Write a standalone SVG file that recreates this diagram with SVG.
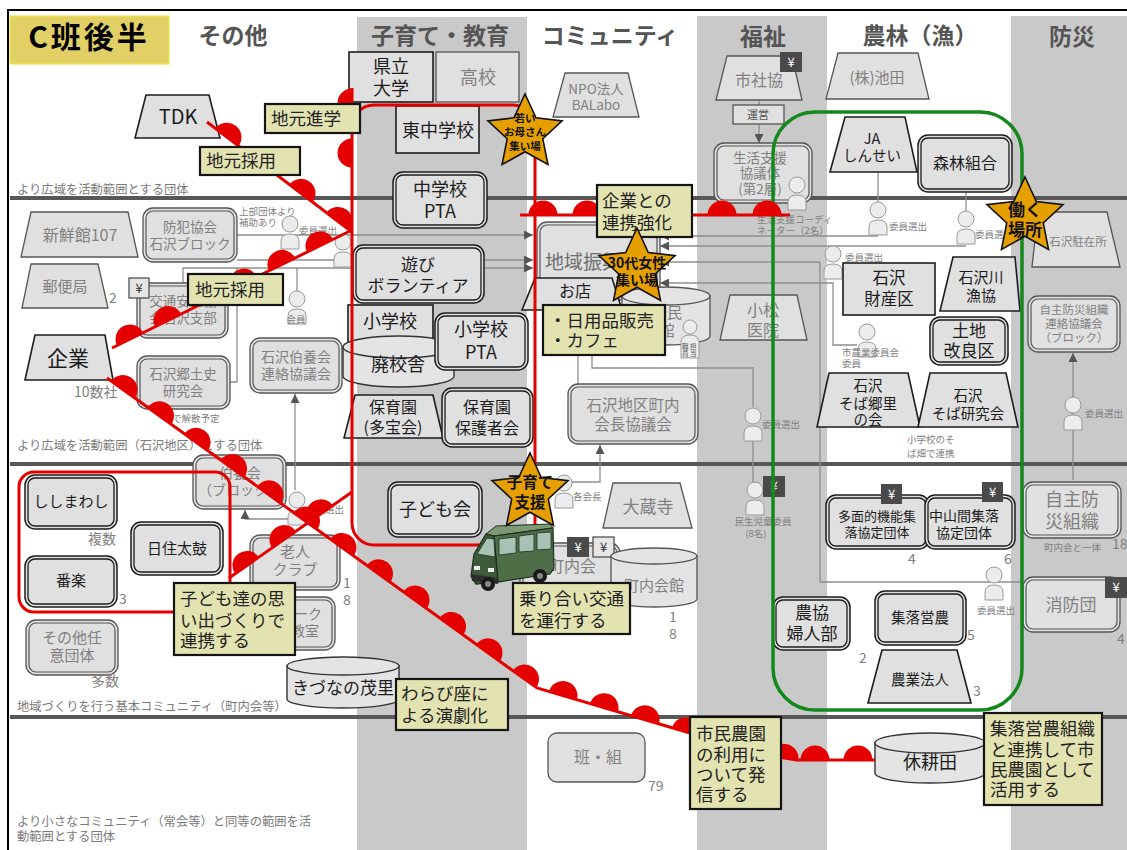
<svg xmlns="http://www.w3.org/2000/svg" width="1127" height="850" viewBox="0 0 1127 850">
<style>
text{font-family:"Noto Sans CJK JP","Noto Sans CJK SC","Noto Sans",sans-serif}
.band{fill:#c9c9c9}
.hd{font-size:23px;font-weight:bold;fill:#555;text-anchor:middle}
.dv{stroke:#575757;stroke-width:4}
.cap{font-size:12.3px;fill:#7a7a7a}
.tg{fill:#e0e0e0;stroke:#555;stroke-width:1.3}
.tk{fill:#e0e0e0;stroke:#1c1c1c;stroke-width:1.6}
.og{fill:#e0e0e0;stroke:#555;stroke-width:1.3}
.ig{fill:none;stroke:#555;stroke-width:1.2}
.ok{fill:#e0e0e0;stroke:#1c1c1c;stroke-width:1.5}
.ik{fill:none;stroke:#1c1c1c;stroke-width:1.3}
.cy{fill:#e4e4e4;stroke:#333;stroke-width:1.4}
.cyg{fill:#e4e4e4;stroke:#555;stroke-width:1.3}
.g{fill:#808080;text-anchor:middle}
.k{fill:#1c1c1c;text-anchor:middle}
.s{font-size:9.5px;fill:#808080}
.nm{font-size:14px;fill:#808080}
.con{fill:none;stroke:#8e8e8e;stroke-width:1.3}
.lb{fill:#e3e3b1;stroke:#141414;stroke-width:2.2}
.lt{font-size:17.5px;fill:#222}
.red{fill:none;stroke:#e50000;stroke-width:3}
.bm{fill:none;stroke:none;marker-mid:url(#bp)}
.yd{fill:#4a4a4a}
.yl{fill:#e6e6e6;stroke:#444;stroke-width:1.2}
.yt{font-size:13px;text-anchor:middle}
.st{font-weight:bold;fill:#111;text-anchor:middle}
</style>
<defs>
<marker id="bp" viewBox="-16 -16 32 32" markerWidth="32" markerHeight="32" refX="0" refY="0" orient="auto" markerUnits="userSpaceOnUse"><path d="M-14.5 0A14.5 14.5 0 0 1 14.5 0Z" fill="#e50000"/></marker>
<marker id="ar" viewBox="0 0 10 10" markerWidth="9" markerHeight="9" refX="10" refY="5" orient="auto" markerUnits="userSpaceOnUse"><path d="M0 0L10 5L0 10Z" fill="#555"/></marker>
<g id="pp"><path d="M-9 25V17Q-9 10 0 10Q9 10 9 17V25Z" fill="#ececec" stroke="#9a9a9a" stroke-width="1"/><circle cx="0" cy="0" r="8" fill="#ececec" stroke="#9a9a9a" stroke-width="1"/></g>
<polygon id="star5" points="0,-1 0.2821,-0.3883 0.9511,-0.309 0.4565,0.1483 0.5878,0.809 0,0.48 -0.5878,0.809 -0.4565,0.1483 -0.9511,-0.309 -0.2821,-0.3883" fill="#e5a000" stroke="#111" stroke-width="1.6" vector-effect="non-scaling-stroke"/>
</defs>

<rect x="0" y="0" width="1127" height="850" fill="#fff"/>

<!-- column bands -->
<g id="bands">
<rect class="band" x="357" y="17" width="170" height="833"/>
<rect class="band" x="697" y="16" width="130" height="834"/>
<rect class="band" x="1011" y="16" width="116" height="834"/>
</g>
<path d="M8 850V10H1127" fill="none" stroke="#000" stroke-width="2"/>

<!-- headers -->
<g id="headers">
<rect x="10" y="16" width="159" height="48" fill="#e2cf66" stroke="#ecea3a" stroke-width="1.2"/>
<text x="89" y="48" font-size="30" font-weight="bold" fill="#000" text-anchor="middle" letter-spacing="3">C班後半</text>
<text class="hd" x="233" y="44">その他</text>
<text class="hd" x="440" y="44" font-size="24">子育て・教育</text>
<text class="hd" x="610" y="44" font-size="22.5">コミュニティ</text>
<text class="hd" x="763" y="45" font-size="24">福祉</text>
<text class="hd" x="920" y="44">農林（漁）</text>
<text class="hd" x="1072" y="45" font-size="24">防災</text>
</g>

<!-- tier dividers -->
<g id="tiers">
<line class="dv" x1="10" y1="198" x2="1127" y2="198"/>
<line class="dv" x1="10" y1="464" x2="1127" y2="464"/>
<line class="dv" x1="10" y1="717" x2="1127" y2="717"/>
<text class="cap" x="17" y="194">より広域を活動範囲とする団体</text>
<text class="cap" x="17" y="450">より広域を活動範囲（石沢地区）とする団体</text>
<text class="cap" x="17" y="711">地域づくりを行う基本コミュニティ（町内会等）</text>
<text class="cap" x="17" y="826">より小さなコミュニティ（常会等）と同等の範囲を活</text>
<text class="cap" x="17" y="841">動範囲とする団体</text>
</g>

<!-- gray connectors -->
<g id="connectors" class="con">
<path d="M237 235H533" marker-end="url(#ar)"/>
<path d="M237 260H533" marker-end="url(#ar)"/>
<path d="M183 283V268H533" marker-end="url(#ar)"/>
<path d="M237 268V382H230"/>
<path d="M297 268V292"/>
<path d="M295 490V394" marker-end="url(#ar)"/>
<path d="M288 519H245V510" marker-end="url(#ar)"/>
<path d="M878 172V202"/>
<path d="M966 192V211"/>
<path d="M878 236H660" marker-end="url(#ar)"/>
<path d="M966 246H660" marker-end="url(#ar)"/>
<path d="M820 262H660" marker-end="url(#ar)"/>
<path d="M820 262V582H1023"/>
<path d="M857 345H833V283H660" marker-end="url(#ar)"/>
<path d="M759 100V105"/>
<path d="M759 124V143" marker-end="url(#ar)"/>
<path d="M578 310V384"/>
<path d="M592 355V368H753V407"/>
<path d="M753 441V482"/>
<path d="M570 482H600V445" marker-end="url(#ar)"/>
<path d="M1073 480V353" marker-end="url(#ar)"/>
</g>

<!-- other groups -->
<g id="n-tdk"><polygon class="tk" points="146,95 209,95 220,138 135,138"/><text class="k" x="178" y="124" font-size="20">TDK</text></g>
<g id="n-shinsenkan"><polygon class="tg" points="31,212 128,212 138,257 21,257"/><text class="g" x="80" y="241" font-size="16">新鮮館107</text></g>
<g id="n-bouhan"><rect class="og" x="143" y="208" width="94" height="54" rx="10"/><rect class="ig" x="146" y="211" width="88" height="48" rx="7"/><text class="g" font-size="13.5"><tspan x="190" y="232">防犯協会</tspan><tspan x="190" y="249">石沢ブロック</tspan></text></g>
<text class="s" x="239" y="215">上部団体より</text>
<text class="s" x="239" y="226">補助あり</text>
<g id="n-yubin"><polygon class="tg" points="31,264 98,264 108,308 22,308"/><text class="g" x="65" y="292" font-size="15">郵便局</text><text class="nm" x="109" y="303">2</text></g>
<g id="n-koutsu"><rect class="og" x="137" y="283" width="91" height="55" rx="10"/><rect class="ig" x="140" y="286" width="85" height="49" rx="7"/><text class="g" font-size="13.5"><tspan x="183" y="306">交通安全協</tspan><tspan x="183" y="323">会石沢支部</tspan></text>
<rect class="yl" x="129" y="278" width="20" height="20"/><text class="yt" x="139" y="293" fill="#333">¥</text></g>
<g id="n-kigyo"><polygon class="tk" points="35,335 105,335 113,380 25,380"/><text class="k" x="68" y="366" font-size="21">企業</text><text class="nm" x="74" y="397">10数社</text></g>
<g id="n-kyodoshi"><rect class="og" x="137" y="356" width="93" height="53" rx="10"/><rect class="ig" x="140" y="359" width="87" height="47" rx="7"/><text class="g" font-size="13.5"><tspan x="183" y="379">石沢郷土史</tspan><tspan x="183" y="396">研究会</tspan></text><text class="s" x="172" y="422" font-size="11.5">で解散予定</text></g>
<g id="n-hakuyo-ren"><rect class="og" x="250" y="338" width="92" height="55" rx="10"/><rect class="ig" x="253" y="341" width="86" height="49" rx="7"/><text class="g" font-size="14"><tspan x="296" y="362">石沢伯養会</tspan><tspan x="296" y="379">連絡協議会</tspan></text></g>
<g id="p-kaiin"><use href="#pp" transform="translate(297,299)"/><text class="s" x="296" y="323" text-anchor="middle">会員</text></g>
<g id="n-hakuyo-blk"><rect class="og" x="193" y="455" width="93" height="54" rx="10"/><rect class="ig" x="196" y="458" width="87" height="48" rx="7"/><text class="g" font-size="14"><tspan x="240" y="478">伯養会</tspan><tspan x="240" y="495">（ブロック）</tspan></text></g>
<g id="n-rojin"><rect class="og" x="250" y="535" width="90" height="55" rx="10"/><rect class="ig" x="253" y="538" width="84" height="49" rx="7"/><text class="g" font-size="15"><tspan x="295" y="557">老人</tspan><tspan x="295" y="575">クラブ</tspan></text><text class="nm" x="343" y="588">1</text><text class="nm" x="343" y="605">8</text></g>
<g id="n-fork"><rect class="og" x="250" y="597" width="85" height="53" rx="10"/><rect class="ig" x="253" y="600" width="79" height="47" rx="7"/><text class="g" font-size="14"><tspan x="308" y="619">ーク</tspan><tspan x="305" y="636">教室</tspan></text></g>
<g id="n-shishi"><rect class="ok" x="25" y="475" width="92" height="54" rx="10"/><rect class="ik" x="28" y="478" width="86" height="48" rx="7"/><text class="k" x="71" y="507" font-size="15">ししまわし</text><text class="nm" x="102" y="544" text-anchor="middle">複数</text></g>
<g id="n-hizumi"><rect class="ok" x="131" y="522" width="92" height="53" rx="10"/><rect class="ik" x="134" y="525" width="86" height="47" rx="7"/><text class="k" x="177" y="554" font-size="15">日住太鼓</text></g>
<g id="n-banraku"><rect class="ok" x="25" y="556" width="92" height="51" rx="10"/><rect class="ik" x="28" y="559" width="86" height="45" rx="7"/><text class="k" x="71" y="586" font-size="15">番楽</text><text class="nm" x="119" y="604">3</text></g>
<g id="n-sonota"><rect class="og" x="26" y="620" width="92" height="55" rx="10"/><rect class="ig" x="29" y="623" width="86" height="49" rx="7"/><text class="g" font-size="15"><tspan x="72" y="643">その他任</tspan><tspan x="72" y="661">意団体</tspan></text><text class="nm" x="105" y="686" text-anchor="middle">多数</text></g>
<g id="n-kizuna"><path class="cy" d="M287 666V699A56 9 0 0 0 399 699V666Z"/><ellipse class="cy" cx="343" cy="666" rx="56" ry="9"/><text class="k" x="343" y="694" font-size="17">きづなの茂里</text></g>

<g id="n-kenritsu"><rect class="tk" x="349" y="52" width="84" height="50"/><text class="k" font-size="18"><tspan x="391" y="73">県立</tspan><tspan x="391" y="95">大学</tspan></text></g>
<g id="n-koukou"><rect class="tg" x="436" y="52" width="83" height="50"/><text class="g" x="478" y="84" font-size="18">高校</text></g>
<g id="n-higashi"><rect class="tk" x="396" y="106" width="83" height="47"/><text class="k" x="438" y="137" font-size="18">東中学校</text></g>
<g id="n-chupta"><rect class="ok" x="393" y="172" width="94" height="56" rx="10"/><rect class="ik" x="396" y="175" width="88" height="50" rx="7"/><text class="k" font-size="18"><tspan x="440" y="196">中学校</tspan><tspan x="440" y="218">PTA</tspan></text></g>
<g id="n-asobi"><rect class="ok" x="353" y="245" width="131" height="58" rx="10"/><rect class="ik" x="356" y="248" width="125" height="52" rx="7"/><text class="k" font-size="17"><tspan x="418" y="271">遊び</tspan><tspan x="418" y="292">ボランティア</tspan></text></g>
<g id="n-shou"><rect class="tk" x="348" y="305" width="85" height="42"/><text class="k" x="390" y="328" font-size="18">小学校</text></g>
<g id="n-haikou"><path class="cy" d="M343 347V376A55.5 11 0 0 0 454 376V347Z"/><ellipse class="cy" cx="398.5" cy="347" rx="55.5" ry="11"/><text class="k" x="398" y="371" font-size="18">廃校舎</text></g>
<g id="n-shoupta"><rect class="ok" x="435" y="313" width="93" height="57" rx="10"/><rect class="ik" x="438" y="316" width="87" height="51" rx="7"/><text class="k" font-size="18"><tspan x="481" y="336">小学校</tspan><tspan x="481" y="359">PTA</tspan></text></g>
<g id="n-hoikuen"><polygon class="tk" points="355,395 433,395 443,438 344,438"/><text class="k" font-size="16"><tspan x="393" y="413">保育園</tspan><tspan x="393" y="433">(多宝会)</tspan></text></g>
<g id="n-hogosha"><rect class="ok" x="442" y="388" width="91" height="59" rx="10"/><rect class="ik" x="445" y="391" width="85" height="53" rx="7"/><text class="k" font-size="16"><tspan x="487" y="413">保育園</tspan><tspan x="487" y="434">保護者会</tspan></text></g>
<g id="n-kodomo"><rect class="ok" x="388" y="482" width="94" height="55" rx="10"/><rect class="ik" x="391" y="485" width="88" height="49" rx="7"/><text class="k" x="435" y="516" font-size="18">子ども会</text></g>

<g id="n-npo"><polygon class="tg" points="565,73 628,73 639,117 553,117"/><text class="g" font-size="13.5"><tspan x="596" y="94">NPO法人</tspan><tspan x="596" y="110">BALabo</tspan></text></g>
<g id="n-chiiki"><rect class="og" x="537" y="222" width="123" height="78" rx="10"/><rect class="ig" x="540" y="225" width="117" height="72" rx="7"/><text x="545" y="269" font-size="19" fill="#6e6e6e">地域振興会</text></g>
<g id="n-omise"><polygon class="tk" points="535,278 612,278 622,310 522,310"/><text class="k" x="575" y="297" font-size="16">お店</text></g>
<g id="n-kominkan"><path class="cyg" d="M622 296V336A44 9 0 0 0 710 336V296Z"/><ellipse class="cyg" cx="666" cy="296" rx="44" ry="9"/><text class="g" font-size="15" text-anchor="start"><tspan x="667" y="318">公民</tspan><tspan x="667" y="336">館</tspan></text></g>
<g id="p-kominkan"><circle cx="690" cy="327" r="7" fill="#ececec" stroke="#9a9a9a"/><path d="M681 358V342Q681 335 690 335Q699 335 699 342V358Z" fill="#ececec" stroke="#9a9a9a"/><text x="690" y="349" font-size="6.5" fill="#555" text-anchor="middle" letter-spacing="1.5">職担</text><text x="690" y="356" font-size="6.5" fill="#555" text-anchor="middle" letter-spacing="1.5">員当</text></g>
<g id="n-komatsu"><polygon class="tg" points="730,295 797,295 807,340 720,340"/><text class="g" font-size="16"><tspan x="763" y="316">小松</tspan><tspan x="763" y="336">医院</tspan></text></g>
<g id="n-chokaikyo"><rect class="og" x="568" y="384" width="130" height="60" rx="10"/><rect class="ig" x="571" y="387" width="124" height="54" rx="7"/><text class="g" font-size="15.5"><tspan x="633" y="411">石沢地区町内</tspan><tspan x="633" y="430">会長協議会</tspan></text></g>
<g id="p-kakukaicho"><use href="#pp" transform="translate(564,483)"/><text class="s" x="573" y="500">各会長</text></g>
<g id="n-daizoji"><polygon class="tg" points="613,483 680,483 692,528 603,528"/><text class="g" x="648" y="513" font-size="17">大蔵寺</text></g>
<g id="n-chonaikai"><rect class="og" x="520" y="543" width="100" height="50" rx="10"/><rect class="ig" x="523" y="546" width="94" height="44" rx="7"/><text class="g" x="572" y="572" font-size="16">町内会</text>
<rect class="yd" x="567" y="537" width="22" height="20"/><text class="yt" x="578" y="552" fill="#fff">¥</text>
<rect class="yl" x="593" y="537" width="21" height="20"/><text class="yt" x="603.5" y="552" fill="#333">¥</text></g>
<g id="n-kaikan"><path class="cyg" d="M611 556V599A43 8 0 0 0 697 599V556Z"/><ellipse class="cyg" cx="654" cy="556" rx="43" ry="8"/><text class="g" x="654" y="591" font-size="15">町内会館</text><text class="nm" x="669" y="622">1</text><text class="nm" x="669" y="639">8</text></g>
<g id="n-han"><rect class="og" x="548" y="733" width="97" height="49" rx="9"/><text class="g" x="598" y="763" font-size="16">班・組</text><text class="nm" x="648" y="791">79</text></g>

<g id="n-shashakyo"><polygon class="tg" points="727,56 792,56 802,100 716,100"/><text class="g" x="759" y="86" font-size="16">市社協</text>
<rect class="yd" x="780" y="52" width="22" height="20"/><text class="yt" x="791" y="67" fill="#fff">¥</text></g>
<g id="n-unei"><rect class="tg" x="733" y="105" width="51" height="19"/><text x="758" y="119" font-size="11" fill="#555" text-anchor="middle">運営</text></g>
<g id="n-seikatsu"><rect class="og" x="714" y="143" width="98" height="60" rx="10"/><rect class="ig" x="717" y="146" width="92" height="54" rx="7"/><text class="g" font-size="13.5"><tspan x="760" y="163">生活支援</tspan><tspan x="760" y="178">協議体</tspan><tspan x="760" y="194">(第2層)</tspan></text></g>
<g id="p-coord"><use href="#pp" transform="translate(797,185)"/><text class="s" x="757" y="223">生活支援コーディ</text><text class="s" x="757" y="234">ネーター（2名）</text></g>
<g id="p-iin1"><use href="#pp" transform="translate(753,416)"/><text class="s" x="762" y="428">委員選出</text></g>
<g id="p-minsei"><use href="#pp" transform="translate(755,490)"/><rect class="yd" x="763" y="476" width="22" height="21"/><text class="yt" x="774" y="491" fill="#fff">¥</text><text class="s" x="763" y="525" text-anchor="middle">民生児童委員</text><text class="s" x="756" y="537" text-anchor="middle">(8名)</text></g>

<g id="n-ikeda"><polygon class="tg" points="838,53 918,53 929,99 826,99"/><text class="g" x="877" y="83" font-size="15">(株)池田</text></g>
<g id="n-ja"><polygon class="tk" points="845,117 905,117 917,172 830,172"/><text class="k" font-size="14.5"><tspan x="872" y="144">JA</tspan><tspan x="872" y="161">しんせい</tspan></text></g>
<g id="n-shinrin"><rect class="ok" x="918" y="135" width="94" height="57" rx="10"/><rect class="ik" x="921" y="138" width="88" height="51" rx="7"/><text class="k" x="965" y="169" font-size="16">森林組合</text></g>
<g id="p-iin2"><use href="#pp" transform="translate(878,210)"/><text class="s" x="889" y="230">委員選出</text></g>
<g id="p-iin3"><use href="#pp" transform="translate(966,219)"/><text class="s" x="975" y="238">委員選出</text></g>
<g id="p-iin4"><use href="#pp" transform="translate(833,254)"/><text class="s" x="845" y="261">委員選出</text></g>
<g id="n-zaisanku"><rect class="tk" x="843" y="263" width="92" height="52"/><text class="k" font-size="16.5"><tspan x="889" y="284">石沢</tspan><tspan x="889" y="305">財産区</tspan></text></g>
<g id="n-gyokyo"><polygon class="tk" points="953,257 1015,257 1020,311 940,311"/><text class="k" font-size="15"><tspan x="981" y="283">石沢川</tspan><tspan x="981" y="301">漁協</tspan></text></g>
<g id="n-tochi"><rect class="ok" x="930" y="317" width="78" height="48" rx="10"/><rect class="ik" x="933" y="320" width="72" height="42" rx="7"/><text class="k" font-size="17"><tspan x="969" y="337">土地</tspan><tspan x="969" y="357">改良区</tspan></text></g>
<g id="p-nogyo"><use href="#pp" transform="translate(867,332)"/><text class="s" x="842" y="356">市農業委員会</text><text class="s" x="842" y="367">委員</text></g>
<g id="n-sobakyo"><polygon class="tk" points="829,373 908,373 920,427 817,427"/><text class="k" font-size="14.5"><tspan x="868" y="391">石沢</tspan><tspan x="868" y="409">そば郷里</tspan><tspan x="868" y="425">の会</tspan></text></g>
<g id="n-sobaken"><polygon class="tk" points="930,373 1006,373 1018,427 918,427"/><text class="k" font-size="14.5"><tspan x="968" y="401">石沢</tspan><tspan x="968" y="419">そば研究会</tspan></text></g>
<text class="s" x="907" y="443">小学校のそ</text>
<text class="s" x="907" y="457">ば畑で連携</text>
<g id="n-tamen"><rect class="ok" x="826" y="495" width="103" height="54" rx="10"/><rect class="ik" x="829" y="498" width="97" height="48" rx="7"/><text class="k" font-size="13"><tspan x="877" y="521">多面的機能集</tspan><tspan x="877" y="537">落協定団体</tspan></text>
<rect class="yd" x="881" y="484" width="21" height="20"/><text class="yt" x="891.5" y="499" fill="#fff">¥</text><text class="nm" x="908" y="564">4</text></g>
<g id="n-nakayama"><rect class="ok" x="925" y="495" width="90" height="54" rx="10"/><rect class="ik" x="928" y="498" width="84" height="48" rx="7"/><text class="k" font-size="14"><tspan x="964" y="521">中山間集落</tspan><tspan x="964" y="538">協定団体</tspan></text>
<rect class="yd" x="982" y="482" width="21" height="20"/><text class="yt" x="992.5" y="497" fill="#fff">¥</text><text class="nm" x="1004" y="564">6</text></g>
<g id="n-fujin"><rect class="ok" x="773" y="597" width="77" height="53" rx="10"/><rect class="ik" x="776" y="600" width="71" height="47" rx="7"/><text class="k" font-size="17"><tspan x="812" y="619">農協</tspan><tspan x="812" y="640">婦人部</tspan></text><text class="nm" x="859" y="663">2</text></g>
<g id="n-shuraku"><rect class="ok" x="875" y="591" width="91" height="54" rx="10"/><rect class="ik" x="878" y="594" width="85" height="48" rx="7"/><text class="k" x="920" y="623" font-size="14.5">集落営農</text><text class="nm" x="967" y="640">5</text></g>
<g id="n-hojin"><polygon class="tk" points="882,650 957,650 971,703 868,703"/><text class="k" x="920" y="685" font-size="14.5">農業法人</text><text class="nm" x="973" y="696">3</text></g>
<g id="p-iin5"><use href="#pp" transform="translate(994,575)"/><text class="s" x="996" y="614" text-anchor="middle" font-size="9">委員選出</text></g>
<g id="n-kyukoden"><path class="cy" d="M875 743V773A55 10 0 0 0 985 773V743Z"/><ellipse class="cy" cx="930" cy="743" rx="55" ry="10"/><text class="k" x="930" y="769" font-size="18">休耕田</text></g>

<g id="n-chuzai"><polygon class="tg" points="1038,212 1107,212 1120,267 1032,267"/><text class="g" x="1078" y="246" font-size="11.5">石沢駐在所</text></g>
<g id="n-jishuren"><rect class="og" x="1028" y="296" width="92" height="56" rx="10"/><rect class="ig" x="1031" y="299" width="86" height="50" rx="7"/><text class="g" font-size="11.5"><tspan x="1074" y="314">自主防災組織</tspan><tspan x="1074" y="328">連絡協議会</tspan><tspan x="1074" y="342">（ブロック）</tspan></text></g>
<g id="p-iin6"><use href="#pp" transform="translate(1073,405)"/><text class="s" x="1085" y="417">委員選出</text></g>
<g id="n-jishu"><rect class="og" x="1023" y="482" width="98" height="56" rx="10"/><rect class="ig" x="1026" y="485" width="92" height="50" rx="7"/><text class="g" font-size="18"><tspan x="1072" y="506">自主防</tspan><tspan x="1072" y="528">災組織</tspan></text><text class="s" x="1044" y="551" font-size="8.5">町内会と一体</text><text class="nm" x="1112" y="549">18</text></g>
<g id="n-shobo"><rect class="og" x="1023" y="577" width="97" height="55" rx="10"/><rect class="ig" x="1026" y="580" width="91" height="49" rx="7"/><text class="g" x="1071" y="611" font-size="17">消防団</text>
<rect class="yd" x="1105" y="577" width="22" height="21"/><text class="yt" x="1116" y="592" fill="#fff">¥</text><text class="nm" x="1117" y="644">4</text></g>

<g id="p-left"><use href="#pp" transform="translate(290,224)"/><text class="s" x="299" y="234">委員選出</text><use href="#pp" transform="translate(343,242)"/><use href="#pp" transform="translate(297,500)"/><text class="s" x="306" y="513">委員選出</text></g>

<!-- agriculture cluster outline -->
<rect id="farm-cluster" x="773" y="112" width="249" height="598" rx="42" fill="none" stroke="#12891a" stroke-width="3.5"/>

<!-- red cooperation links -->
<g id="links">
<rect class="red" x="352" y="105" width="183" height="440" rx="22"/>
<rect class="red" x="19" y="472" width="211" height="140" rx="15"/>
<path class="red" d="M352 88V130"/>
<path class="red" d="M207 122L352 232"/>
<path class="red" d="M112 348L352 230"/>
<path class="red" d="M107 378L537 688L690 733"/>
<path class="red" d="M778 757L797 760H875"/>
<path class="red" d="M520 215H790"/>
<path class="red" d="M229 578L352 492"/>
<path class="bm" d="M352 175L352 153L352 103L352 88"/>
<path class="bm" d="M207 122L227 137.2L264 165.2L301 193.3L338 221.4L352 232"/>
<path class="bm" d="M112 348L130 339.1L168 320.5L206 301.8L244 283.1L282 264.4L320 245.7L352 230"/>
<path class="bm" d="M107 378L123 389.5L159.5 415.8L196 442.2L232.5 468.5L269 494.8L305.5 521.1L342 547.4L378.5 573.7L415 600L451.5 626.4L488 652.7L524.5 679L537 688"/>
<path class="bm" d="M537 688L563 695.6L604 707.7L645 719.8L686 731.8L690 733"/>
<path class="bm" d="M778 757L784 758.4L790 759.6"/>
<path class="bm" d="M797 760L815 760L858 760L875 760"/>
<path class="bm" d="M520 215L543 215L587 215L630 215L675 215L722 215L767 215L790 215"/>
<path class="bm" d="M229 578L247 565.4L284 539.6L321 513.7L352 492"/>
</g>

<!-- van -->
<g id="van" transform="translate(466,524)">
<path d="M20 10L30 2L84 0L87 4L28 12Z" fill="#7e9a75" stroke="#1e2e1e" stroke-width="1"/>
<path d="M28 12L87 4L88 44L84 50L32 58Z" fill="#4e6e48" stroke="#1e2e1e" stroke-width="1.2"/>
<path d="M8 30L20 10L28 12L32 58L10 60L5 52Z" fill="#3d5a39" stroke="#1e2e1e" stroke-width="1.2"/>
<path d="M11 30L21 14L28 15L29 33Z" fill="#a9c2b6" stroke="#1e2e1e" stroke-width="0.8"/>
<path d="M33 15L50 13L50 29L33 31Z M53 12L68 10L68 27L53 28Z M71 9L85 8L85 25L71 26Z" fill="#a9c2b6" stroke="#1e2e1e" stroke-width="0.8"/>
<path d="M5 50L32 54L32 60L6 57Z" fill="#2e2e2e"/>
<rect x="8" y="42" width="6" height="4" fill="#eee"/>
<rect x="22" y="44" width="6" height="4" fill="#eee"/>
<circle cx="22" cy="60" r="7" fill="#1a1a1a"/><circle cx="22" cy="60" r="3" fill="#888"/>
<circle cx="74" cy="52" r="7" fill="#1a1a1a"/><circle cx="74" cy="52" r="3" fill="#888"/>
</g>

<!-- callout labels -->
<g id="callouts">
<g id="c-jimoto1"><rect class="lb" x="200" y="147" width="100" height="28"/><text class="lt" x="206" y="167">地元採用</text></g>
<g id="c-shingaku"><rect class="lb" x="265" y="104" width="95" height="29"/><text class="lt" x="271" y="125">地元進学</text></g>
<g id="c-jimoto2"><rect class="lb" x="188" y="274" width="95" height="31"/><text class="lt" x="195" y="296">地元採用</text></g>
<g id="c-renkei"><rect class="lb" x="597" y="185" width="95" height="52"/><text class="lt"><tspan x="602" y="207">企業との</tspan><tspan x="602" y="229">連携強化</tspan></text></g>
<g id="c-mise"><rect class="lb" x="543" y="305" width="122" height="50"/><text class="lt"><tspan x="549" y="327">・日用品販売</tspan><tspan x="549" y="347">・カフェ</tspan></text></g>
<g id="c-kodomo"><rect class="lb" x="174" y="583" width="121" height="72"/><text class="lt"><tspan x="180" y="605">子ども達の思</tspan><tspan x="180" y="627">い出づくりで</tspan><tspan x="180" y="647">連携する</tspan></text></g>
<g id="c-noriai"><rect class="lb" x="513" y="583" width="117" height="51"/><text class="lt"><tspan x="519" y="605">乗り合い交通</tspan><tspan x="519" y="627">を運行する</tspan></text></g>
<g id="c-warabi"><rect class="lb" x="396" y="679" width="112" height="51"/><text class="lt"><tspan x="401" y="700">わらび座に</tspan><tspan x="401" y="722">よる演劇化</tspan></text></g>
<g id="c-shimin"><rect class="lb" x="690" y="717" width="91" height="92"/><text class="lt"><tspan x="696" y="740">市民農園</tspan><tspan x="696" y="761">の利用に</tspan><tspan x="696" y="781">ついて発</tspan><tspan x="696" y="801">信する</tspan></text></g>
<g id="c-shuraku"><rect class="lb" x="984" y="713" width="118" height="92"/><text class="lt"><tspan x="990" y="735">集落営農組織</tspan><tspan x="990" y="756">と連携して市</tspan><tspan x="990" y="776">民農園として</tspan><tspan x="990" y="796">活用する</tspan></text></g>
</g>

<!-- stars -->
<g id="s-okaasan"><use href="#star5" transform="translate(525,133) scale(39)"/><text class="st" font-size="10.5"><tspan x="525" y="122">若い</tspan><tspan x="525" y="136">お母さん</tspan><tspan x="525" y="150">集い場</tspan></text></g>
<g id="s-30dai"><use href="#star5" transform="translate(637,268) scale(40)"/><text class="st" font-size="14"><tspan x="637" y="268">30代女性</tspan><tspan x="637" y="285">集い場</tspan></text></g>
<g id="s-hataraku"><use href="#star5" transform="translate(1025,217) scale(40)"/><text class="st" font-size="17"><tspan x="1025" y="216">働く</tspan><tspan x="1025" y="236">場所</tspan></text></g>
<g id="s-kosodate"><use href="#star5" transform="translate(530,493) scale(40)"/><text class="st" font-size="15.5"><tspan x="530" y="488">子育て</tspan><tspan x="530" y="508">支援</tspan></text></g>
</svg>
